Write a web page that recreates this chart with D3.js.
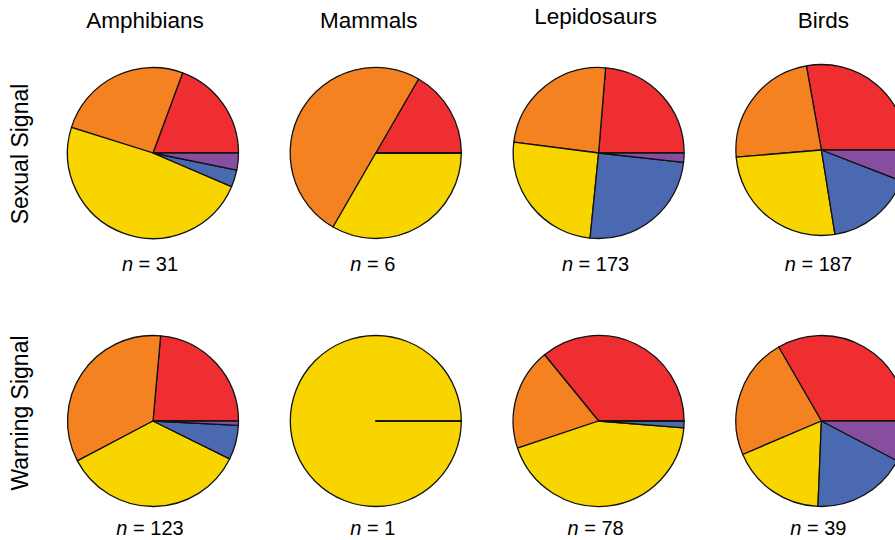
<!DOCTYPE html>
<html>
<head>
<meta charset="utf-8">
<script src="https://cdn.jsdelivr.net/npm/d3@7"></script>
<style>
  html, body { margin: 0; padding: 0; background: #fff; overflow: hidden; }
  svg { display: block; font-family: "Liberation Sans", Arial, sans-serif; }
</style>
</head>
<body>
<svg id="chart" width="895" height="540"></svg>
<script>
// Taxa (columns) and signal types (rows)
const taxa = ["Amphibians", "Mammals", "Lepidosaurs", "Birds"];
const signals = ["Sexual Signal", "Warning Signal"];

// Colour categories, drawn counter-clockwise from 3 o'clock
const categories = ["red", "orange", "yellow", "blue", "purple"];
const colors = ["#ee2e31", "#f58220", "#f9d500", "#4a69b0", "#874ea0"];

// Species counts per category [red, orange, yellow, blue, purple]
const sexualAmphibians  = [6, 8, 15, 1, 1];
const sexualMammals     = [1, 3, 2, 0, 0];
const sexualLepidosaurs = [41, 42, 44, 43, 3];
const sexualBirds       = [52, 44, 49, 31, 11];

const warningAmphibians  = [29, 42, 43, 8, 1];
const warningMammals     = [0, 0, 1, 0, 0];
const warningLepidosaurs = [28, 15, 34, 1, 0];
const warningBirds       = [13, 9, 7, 7, 3];

const counts = [
  [sexualAmphibians, sexualMammals, sexualLepidosaurs, sexualBirds],
  [warningAmphibians, warningMammals, warningLepidosaurs, warningBirds]
];

// Layout tweaks for headings (pixels)
const headingShiftX = [-8, -7, -3, 2];
const headingBaseline = [28, 28, 24, 28];
const rowLabelShiftY = [1, -8];
const countLabelOffset = [118, 114];

const svg = d3.select("#chart");

const x = d3.scaleBand().domain(taxa).range([41.6, 932.8]);
const y = d3.scaleBand().domain(signals).range([19, 555]);
const color = d3.scaleOrdinal().domain(categories).range(colors);

const radius = 85.5;

// Start at 3 o'clock and run counter-clockwise (d3 angles are clockwise from 12 o'clock)
const pie = d3.pie()
  .sort(null)
  .value(d => d.value)
  .startAngle(Math.PI / 2)
  .endAngle(Math.PI / 2 - 2 * Math.PI);

const arc = d3.arc().innerRadius(0).outerRadius(radius);

// Column headings
svg.append("g").selectAll("text")
  .data(taxa)
  .join("text")
  .attr("x", (d, i) => x(d) + x.bandwidth() / 2 + headingShiftX[i])
  .attr("y", (d, i) => headingBaseline[i])
  .attr("text-anchor", "middle")
  .attr("font-size", 22.5)
  .attr("fill", "#000")
  .text(d => d);

// Row headings
svg.append("g").selectAll("text")
  .data(signals)
  .join("text")
  .attr("transform", (d, i) => `translate(28,${y(d) + y.bandwidth() / 2 + rowLabelShiftY[i]}) rotate(-90)`)
  .attr("text-anchor", "middle")
  .attr("font-size", 23)
  .attr("fill", "#000")
  .text(d => d);

signals.forEach((sig, r) => {
  taxa.forEach((tax, c) => {
    const vals = counts[r][c];
    const data = vals.map((v, k) => ({ key: categories[k], value: v }));
    const cx = x(tax) + x.bandwidth() / 2;
    const cy = y(sig) + y.bandwidth() / 2 - (c === 3 && r === 0 ? 3 : 0);
    const g = svg.append("g").attr("transform", `translate(${cx},${cy})`);

    g.selectAll("path")
      .data(pie(data))
      .join("path")
      .attr("d", arc)
      .attr("fill", d => color(d.data.key))
      .attr("stroke", "#111")
      .attr("stroke-width", 1.3)
      .attr("stroke-linejoin", "round");

    const total = d3.sum(vals);
    const label = svg.append("text")
      .attr("x", cx - 3)
      .attr("y", y(sig) + y.bandwidth() / 2 + countLabelOffset[r])
      .attr("text-anchor", "middle")
      .attr("font-size", 20)
      .attr("fill", "#000");
    label.append("tspan").attr("font-style", "italic").text("n");
    label.append("tspan").text(` = ${total}`);
  });
});
</script>
</body>
</html>
